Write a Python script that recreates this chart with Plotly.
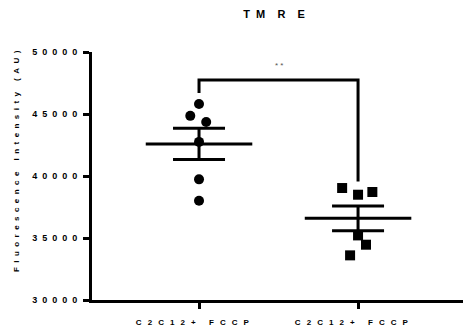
import numpy as np
import plotly.graph_objects as go

# Group labels and per-well TMRE readings
groups = ["C2C12+ FCCP", "C2C12+ FCCP"]
group_a = [45800, 44850, 44350, 42750, 39730, 38010]
group_b = [39030, 38490, 38710, 35210, 34460, 33600]
x_a_offsets = [0.0, -0.055, 0.045, 0.0, 0.0, 0.0]
x_b_offsets = [-0.10, 0.0, 0.09, 0.0, 0.05, -0.05]

y_ticks = [30000, 35000, 40000, 45000, 50000]
y_title = "Fluorescence Intensity (AU)"
sig_label = "**"
bracket_top = 47750
bracket_left_foot = 46700
bracket_right_foot = 39550

NB = "\u00a0"


def spaced(text, gap=NB * 2, word_gap=NB * 5):
    words = text.split(" ")
    return word_gap.join(gap.join(list(w)) for w in words)


fig = go.Figure()

font_family = "Liberation Sans, Arial, sans-serif"

# Individual points
fig.add_trace(go.Scatter(
    x=[0 + o for o in x_a_offsets], y=group_a, mode="markers",
    marker=dict(symbol="circle", size=10, color="black"),
    showlegend=False, cliponaxis=False))
fig.add_trace(go.Scatter(
    x=[1 + o for o in x_b_offsets], y=group_b, mode="markers",
    marker=dict(symbol="square", size=10, color="black"),
    showlegend=False, cliponaxis=False))

# Mean line and SEM bars for each group
half = 0.335
for i, vals in enumerate([group_a, group_b]):
    arr = np.array(vals, dtype=float)
    mean = arr.mean()
    sem = arr.std(ddof=1) / np.sqrt(len(arr))
    fig.add_trace(go.Scatter(
        x=[i - half, i + half], y=[mean, mean], mode="lines",
        line=dict(color="black", width=3), showlegend=False))
    fig.add_trace(go.Scatter(
        x=[i], y=[mean], mode="markers",
        marker=dict(size=1, color="rgba(0,0,0,0)"),
        error_y=dict(type="data", array=[sem], color="black",
                     thickness=3, width=26),
        showlegend=False))

# Significance bracket
fig.add_trace(go.Scatter(
    x=[0, 0, 1, 1],
    y=[bracket_left_foot, bracket_top, bracket_top, bracket_right_foot],
    mode="lines", line=dict(color="black", width=3),
    showlegend=False, cliponaxis=False))
fig.add_annotation(x=0.5, y=bracket_top, yshift=14, text=NB.join(sig_label),
                   showarrow=False,
                   font=dict(family=font_family, size=8, color="#555555"))

# Rotated y-axis title placed beside the tick labels
fig.add_annotation(xref="paper", yref="paper", x=-0.205, y=0.56,
                   xanchor="center", yanchor="middle", textangle=-90,
                   text="<b>" + spaced(y_title) + "</b>", showarrow=False,
                   font=dict(family=font_family, size=8, color="black"))

fig.update_layout(
    width=463, height=333,
    margin=dict(l=92, r=0, t=52, b=33),
    paper_bgcolor="white", plot_bgcolor="white",
    title=dict(text="<b>T" + NB * 2 + "M" + NB * 4 + "R" + NB * 4 + "E</b>",
               x=0.592, xanchor="center", y=0.958, yanchor="middle",
               font=dict(family=font_family, size=11, color="black")),
    xaxis=dict(
        range=[-0.673, 1.66], tickmode="array", tickvals=[0, 1],
        ticktext=["<b>" + spaced(g, gap=NB * 2 + "\u2009", word_gap=NB * 6) + NB * 6 + "</b>" for g in groups],
        showgrid=False, zeroline=False, showline=True, automargin=False,
        linecolor="black", linewidth=3,
        ticks="outside", ticklen=6, tickwidth=3, tickcolor="black",
        tickfont=dict(family=font_family, size=8, color="black"),
        ticklabelstandoff=6),
    yaxis=dict(
        range=[30000, 50000], tickmode="array", tickvals=y_ticks,
        ticktext=["<b>" + (NB * 2).join(str(v)) + "</b>" for v in y_ticks],
        showgrid=False, zeroline=False, showline=True, automargin=False,
        linecolor="black", linewidth=3,
        ticks="outside", ticklen=6, tickwidth=3, tickcolor="black",
        tickfont=dict(family=font_family, size=9, color="black"),
        ticklabelstandoff=4),
)

fig.write_html("out.html")
